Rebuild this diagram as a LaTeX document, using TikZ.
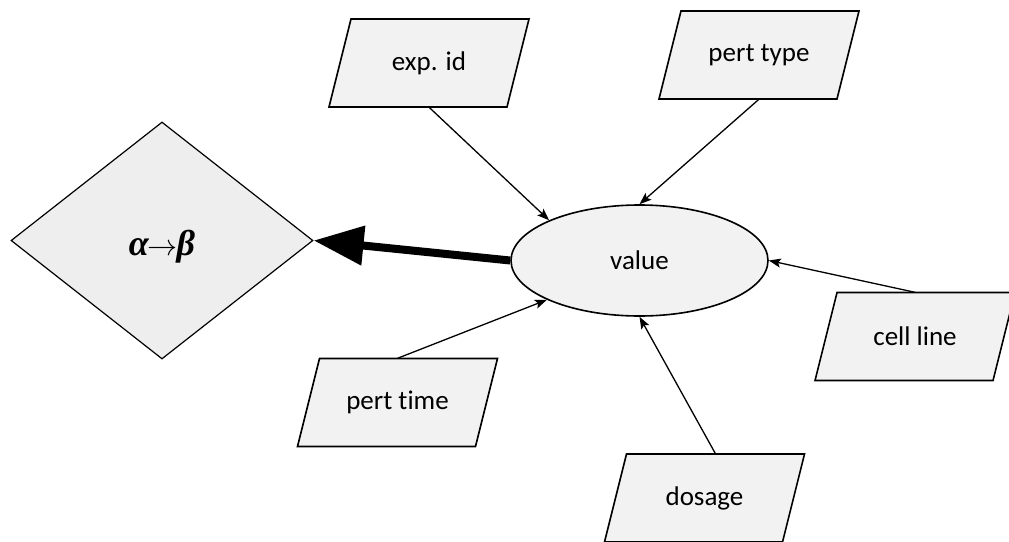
\documentclass[tikz,border=0pt]{standalone}
\usepackage{graphicx}
\usepackage{fontspec}
\setmainfont{Carlito}[Ligatures=NoCommon]
\newfontfamily\serifbi{Liberation Serif}
\usetikzlibrary{shapes.geometric,arrows.meta}
\definecolor{shapefill}{HTML}{F2F2F2}
\definecolor{diafill}{HTML}{EEEEEE}
\tikzset{
  box/.style={minimum width=200pt, minimum height=88pt, inner sep=0pt, font=\fontsize{27}{32}\selectfont},
  parashape/.style={draw=black, line width=1.6pt, fill=shapefill, line join=miter},
  link/.style={line width=1.3pt, -{Stealth[length=12pt,width=9pt,inset=2.5pt]}},
  biglink/.style={line width=8pt, -{Triangle[length=50pt,width=38pt]}},
}
\newcommand\parnode[3]{%
  \draw[parashape] (#2) ++(-78,-44) -- ++(178,0) -- ++(-22,88) -- ++(-178,0) -- cycle;
  \node[box] (#1) at (#2) {#3};}
\newcommand\bigarrow{\scalebox{3}{\fontsize{10}{12}\selectfont\(\rightarrow\)}}
\begin{document}
\begin{tikzpicture}[x=1pt,y=-1pt]
\useasboundingbox (0,0) rectangle (1009,541);
\clip (0,0) rectangle (1009,541);

\node[diamond, draw=black, line width=1.2pt, fill=diafill, minimum width=302pt, minimum height=237pt, inner sep=0pt] (rule) at (162,240.5) {};
\node[font=\serifbi\bfseries\itshape\fontsize{36}{42}\selectfont, inner sep=0pt] (ruletext) at ([yshift=-6pt]rule.center) {α\kern-1pt\bigarrow\kern-1ptβ};

\node[ellipse, draw=black, line width=1.6pt, fill=shapefill, minimum width=257pt, minimum height=111pt, inner sep=0pt,
      font=\fontsize{27}{32}\selectfont] (value) at (639.5,260.5) {value};

\parnode{expid}{429,63}{exp. id}
\parnode{perttype}{759,55}{pert type}
\parnode{cellline}{915,336.5}{cell line}
\parnode{perttime}{397.5,402.5}{pert time}
\parnode{dosage}{704.5,498}{dosage}

\draw[link] (expid.south) -- (value.156);
\draw[link] (perttype.south) -- (value.north);
\draw[link] (cellline.north) -- (value.east);
\draw[link] ([xshift=11pt]dosage.north) -- (value.south);
\draw[link] (perttime.north) -- (value.203);
\draw[biglink] (value.west) -- (rule.east);
\end{tikzpicture}
\end{document}
